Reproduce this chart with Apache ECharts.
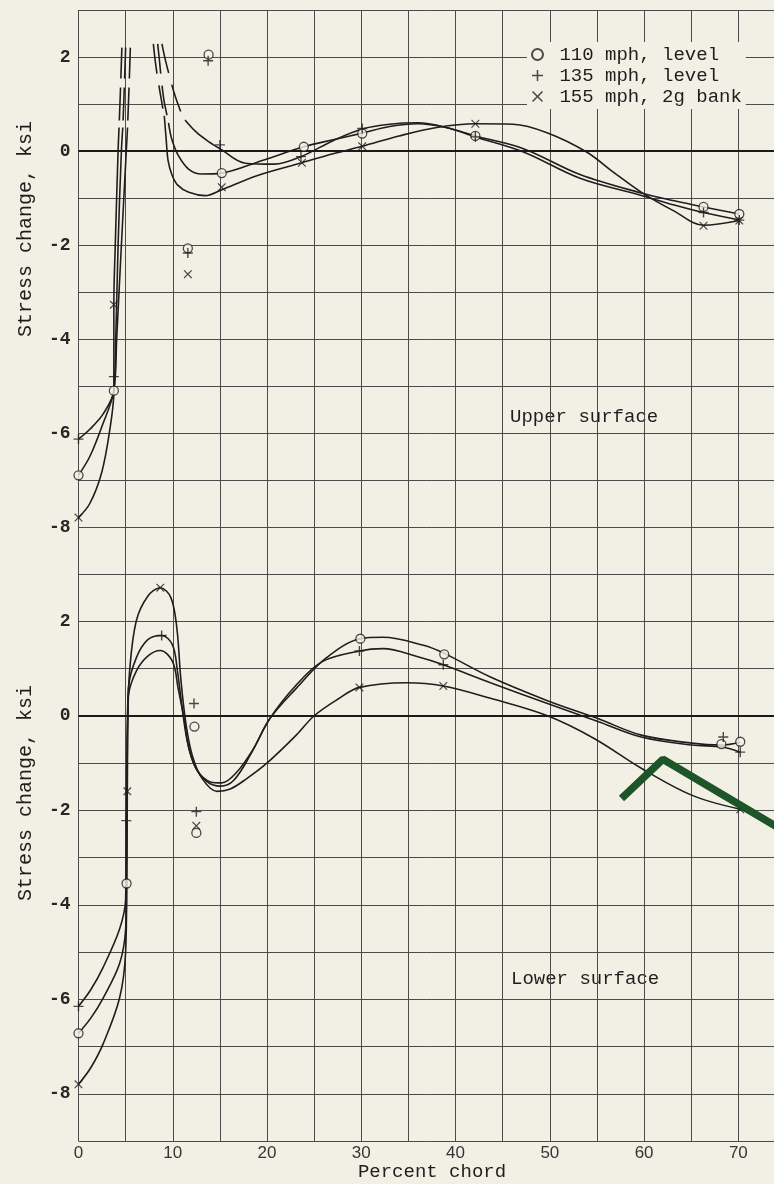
<!DOCTYPE html>
<html>
<head>
<meta charset="utf-8">
<script src="https://cdn.jsdelivr.net/npm/echarts@6/dist/echarts.min.js"></script>
<style>
  html, body { margin: 0; padding: 0; background: #f2f0e5; }
  #chart { width: 774px; height: 1184px; }
</style>
</head>
<body>
<div id="chart"></div>
<script>
// ---------- data (x = percent chord, y = stress change, ksi) ----------
const xTicks = [0, 10, 20, 30, 40, 50, 60, 70];
const yTicks = [-8, -6, -4, -2, 0, 2];
const seriesNames = ['110 mph, level', '135 mph, level', '155 mph, 2g bank'];

// Upper surface, measured points
const upper110 = [[0,-6.9],[3.75,-5.1],[11.6,-2.07],[13.8,2.05],[15.2,-0.47],[23.9,0.09],[30.1,0.37],[42.1,0.32],[66.3,-1.19],[70.1,-1.34]];
const upper135 = [[0,-6.13],[3.75,-4.8],[11.6,-2.17],[13.75,1.92],[15.0,0.13],[23.6,-0.12],[30.1,0.48],[42.1,0.3],[66.3,-1.31],[70.1,-1.47]];
const upper155 = [[0,-7.8],[3.75,-3.27],[11.6,-2.62],[15.2,-0.77],[23.7,-0.25],[30.1,0.1],[42.1,0.58],[66.3,-1.59],[70.1,-1.48]];

// Upper surface, faired curves: leading-edge part (solid), its broken continuation,
// the broken descent past 8 percent, and the main solid part
const upper110Nose = [[0,-6.9],[1.2,-6.5],[2.45,-5.88],[3.75,-5.1],[4.05,-4.0],[4.55,-2.0],[5.07,0],[5.2,0.5]];
const upper135Nose = [[0,-6.13],[1.2,-5.92],[2.6,-5.6],[3.75,-5.1],[3.95,-4.0],[4.2,-2.0],[4.55,0],[4.7,0.5]];
const upper155Nose = [[0,-7.8],[1.2,-7.5],[2.45,-6.85],[3.3,-5.96],[3.75,-5.1],[3.75,-3.25],[3.9,-2.0],[4.2,0],[4.3,0.5]];
const upper110Rise = [[5.23,0.65],[5.37,1.4],[5.5,2.2]];
const upper135Rise = [[4.73,0.65],[4.87,1.4],[5.0,2.2]];
const upper155Rise = [[4.33,0.65],[4.47,1.4],[4.6,2.2]];
const upper110Drop = [[8.4,2.28],[8.6,1.9],[8.8,1.5],[9.05,1.1],[9.4,0.75]];
const upper135Drop = [[8.85,2.28],[9.2,1.95],[9.62,1.62],[10.2,1.2],[10.84,0.84]];
const upper155Drop = [[7.94,2.28],[8.15,1.9],[8.4,1.55],[8.65,1.25],[8.95,0.9]];
const upper110Main = [[9.55,0.6],[9.9,0.25],[10.6,-0.1],[11.7,-0.39],[13.1,-0.49],[15.2,-0.47],[19.5,-0.2],[23.9,0.09],[27,0.24],[30.1,0.38],[33,0.52],[36,0.58],[39,0.5],[42.1,0.32],[47.2,0.05],[53.2,-0.5],[59.8,-0.9],[63.2,-1.06],[66.3,-1.19],[70.1,-1.34]];
const upper135Main = [[11.3,0.66],[12.5,0.4],[13.8,0.2],[15.0,0.05],[17.7,-0.26],[20.8,-0.28],[23.6,-0.12],[27,0.22],[30.1,0.47],[33,0.57],[36,0.6],[39,0.5],[42.1,0.3],[47.2,-0.02],[53.2,-0.58],[59.8,-0.95],[63.2,-1.15],[66.3,-1.31],[70.1,-1.47]];
const upper155Main = [[9.1,0.75],[9.3,0.25],[9.5,-0.2],[9.9,-0.5],[10.5,-0.72],[11.7,-0.88],[13.46,-0.95],[15.03,-0.84],[19,-0.52],[23.7,-0.25],[27,-0.06],[30.1,0.1],[34,0.32],[38,0.5],[42.1,0.58],[46.1,0.57],[49.7,0.39],[53.9,-0.02],[56.8,-0.46],[59.8,-0.89],[63.2,-1.28],[66.3,-1.58],[70.1,-1.48]];

// Lower surface, measured points
const lower110 = [[0,-6.72],[5.1,-3.55],[12.3,-0.23],[12.5,-2.48],[29.9,1.63],[38.8,1.3],[68.2,-0.6],[70.2,-0.55]];
const lower135 = [[0,-6.15],[5.07,-2.22],[8.82,1.7],[12.25,0.26],[12.5,-2.03],[29.8,1.37],[38.7,1.08],[68.4,-0.45],[70.2,-0.77]];
const lower155 = [[0,-7.8],[5.18,-1.6],[8.68,2.71],[12.5,-2.33],[29.8,0.6],[38.7,0.63],[70.2,-1.98]];

// Lower surface, faired curves
const lower110Curve = [[0,-6.72],[1.3,-6.4],[2.6,-5.98],[4.35,-5.25],[5.0,-4.52],[5.1,-3.55],[5.15,-2.0],[5.2,0],[5.3,0.44],[6.12,0.94],[7.35,1.26],[8.68,1.38],[9.97,1.15],[10.57,0.58],[11.2,-0.06],[11.72,-0.7],[12.6,-1.16],[14.0,-1.4],[15.2,-1.42],[16.8,-1.19],[18.55,-0.7],[20.3,-0.06],[23.1,0.58],[26.25,1.22],[29.9,1.63],[32.3,1.66],[36.6,1.49],[38.8,1.32],[43.7,0.82],[49.75,0.32],[55.1,-0.06],[59.7,-0.41],[65.05,-0.58],[68.2,-0.62],[70.2,-0.56]];
const lower135Curve = [[0,-6.15],[1.3,-5.8],[2.6,-5.33],[4.35,-4.52],[5.0,-3.88],[5.07,-2.22],[5.15,-0.5],[5.22,0],[5.3,0.6],[6.12,1.22],[7.35,1.61],[8.82,1.7],[9.97,1.5],[10.5,0.94],[11.0,0.16],[11.55,-0.55],[12.4,-1.09],[13.65,-1.4],[15.05,-1.49],[16.45,-1.37],[18.2,-0.84],[20.3,-0.06],[23.1,0.65],[25.9,1.15],[29.8,1.37],[32.3,1.42],[36,1.25],[38.7,1.08],[43.7,0.7],[49.75,0.26],[55.1,-0.12],[59.7,-0.45],[65.05,-0.62],[68.3,-0.66],[70.2,-0.77]];
const lower155Curve = [[0,-7.8],[1.3,-7.45],[2.6,-6.95],[4.35,-5.98],[5.0,-5.0],[5.12,-3.5],[5.18,-1.6],[5.25,0],[5.42,0.94],[6.12,2.0],[7.35,2.53],[8.68,2.71],[9.8,2.5],[10.43,1.86],[10.85,0.79],[11.37,-0.13],[12.07,-0.84],[13.12,-1.33],[14.7,-1.6],[16.1,-1.55],[17.85,-1.33],[19.95,-1.01],[23.1,-0.41],[25.0,0.0],[27.5,0.35],[29.8,0.6],[34.8,0.7],[38.7,0.63],[43.7,0.37],[49.75,0.0],[54.7,-0.48],[59.7,-1.11],[65.05,-1.68],[70.2,-1.98]];

// green pen stroke on the scanned sheet (lower panel coordinates)
const penMark = [[57.6,-1.75],[62.0,-0.92],[76,-2.58]];

// ---------- styling ----------
const PAPER = '#f2f0e5';
const INK = '#1e1e1e';
const GRIDC = '#4c4c4c';
const MONO = '"Liberation Mono", "DejaVu Sans Mono", monospace';
const PLUS = 'path://M4.3,0L5.7,0L5.7,4.3L10,4.3L10,5.7L5.7,5.7L5.7,10L4.3,10L4.3,5.7L0,5.7L0,4.3L4.3,4.3Z';
const CROSS = 'path://M0,1L1,0L5,4L9,0L10,1L6,5L10,9L9,10L5,6L1,10L0,9L4,5Z';

function curve(data, gi, dashed, extra) {
  const s = {
    type: 'line', xAxisIndex: gi, yAxisIndex: gi, data: data,
    smooth: 0.35, symbol: 'none', showSymbol: false, silent: true, z: 3,
    lineStyle: { color: INK, width: 1.6, type: dashed ? [30, 12] : 'solid' }
  };
  return Object.assign(s, extra || {});
}
function zeroLine() {
  return { markLine: { symbol: 'none', silent: true, label: { show: false },
    lineStyle: { color: '#1a1a1a', width: 2, type: 'solid' }, data: [{ yAxis: 0 }] } };
}
function marks(name, data, gi, kind) {
  const s = { type: 'scatter', name: name, xAxisIndex: gi, yAxisIndex: gi, data: data, z: 6, silent: true };
  if (kind === 'o') {
    s.symbol = 'circle'; s.symbolSize = 9;
    s.itemStyle = { color: PAPER, borderColor: INK, borderWidth: 1.3 };
  } else if (kind === '+') {
    s.symbol = PLUS; s.symbolSize = 10;
    s.itemStyle = { color: INK };
  } else {
    s.symbol = CROSS; s.symbolSize = 8.5;
    s.itemStyle = { color: INK };
  }
  return s;
}

const xAxisBase = {
  type: 'value', min: 0, max: 75, interval: 5,
  axisLine: { show: false }, axisTick: { show: false },
  splitLine: { show: true, lineStyle: { color: GRIDC, width: 1 } }
};
const yAxisBase = {
  type: 'value', min: -9, max: 3, interval: 1,
  axisLine: { show: false }, axisTick: { show: false },
  splitLine: { show: true, lineStyle: { color: GRIDC, width: 1 } },
  axisLabel: {
    margin: 8, color: '#262626', fontFamily: MONO, fontWeight: 'bold', fontSize: 18,
    formatter: v => (yTicks.indexOf(v) >= 0 ? String(v) : '')
  }
};

const option = {
  backgroundColor: PAPER,
  animation: false,
  grid: [
    { left: 78.5, top: 10, width: 707, height: 564, outerBoundsMode: 'none', containLabel: false },
    { left: 78.5, top: 574, width: 707, height: 567, outerBoundsMode: 'none', containLabel: false }
  ],
  xAxis: [
    Object.assign({}, xAxisBase, { gridIndex: 0, axisLabel: { show: false } }),
    Object.assign({}, xAxisBase, {
      gridIndex: 1,
      axisLabel: {
        margin: 4, color: '#353535', fontFamily: '"Liberation Sans", Arial, sans-serif', fontSize: 17,
        formatter: v => (xTicks.indexOf(v) >= 0 ? String(v) : '')
      },
      name: 'Percent chord', nameLocation: 'middle', nameGap: 21,
      nameTextStyle: { fontFamily: MONO, fontSize: 19, color: INK }
    })
  ],
  yAxis: [
    Object.assign({}, yAxisBase, { gridIndex: 0 }),
    Object.assign({}, yAxisBase, { gridIndex: 1 })
  ],
  legend: {
    orient: 'vertical', left: 527, top: 42, itemWidth: 11, itemHeight: 11, itemGap: 0,
    padding: [2, 4, 2, 4], backgroundColor: PAPER, selectedMode: false,
    data: seriesNames,
    formatter: n => ' ' + n,
    textStyle: { fontFamily: MONO, fontSize: 19, color: INK, lineHeight: 21 }
  },
  graphic: [
    { type: 'text', x: 26, y: 229, rotation: Math.PI / 2, silent: true,
      style: { text: 'Stress change, ksi', font: '20px ' + MONO, fill: INK, textAlign: 'center', textVerticalAlign: 'middle' } },
    { type: 'text', x: 26, y: 793, rotation: Math.PI / 2, silent: true,
      style: { text: 'Stress change, ksi', font: '20px ' + MONO, fill: INK, textAlign: 'center', textVerticalAlign: 'middle' } },
    { type: 'text', x: 510, y: 417, silent: true,
      style: { text: 'Upper surface', font: '19px ' + MONO, fill: INK, textAlign: 'left', textVerticalAlign: 'middle' } },
    { type: 'text', x: 511, y: 979, silent: true,
      style: { text: 'Lower surface', font: '19px ' + MONO, fill: INK, textAlign: 'left', textVerticalAlign: 'middle' } }
  ],
  series: [
    // upper surface curves
    curve(upper110Nose, 0, false, zeroLine()),
    curve(upper135Nose, 0, false),
    curve(upper155Nose, 0, false),
    curve(upper110Rise, 0, true, { smooth: false, lineStyle: { color: INK, width: 1.6, type: [33, 9] } }),
    curve(upper135Rise, 0, true, { smooth: false, lineStyle: { color: INK, width: 1.6, type: [33, 9] } }),
    curve(upper155Rise, 0, true, { smooth: false, lineStyle: { color: INK, width: 1.6, type: [33, 9] } }),
    curve(upper110Drop, 0, true),
    curve(upper135Drop, 0, true),
    curve(upper155Drop, 0, true),
    curve(upper110Main, 0, false),
    curve(upper135Main, 0, false),
    curve(upper155Main, 0, false),
    // lower surface curves
    curve(lower110Curve, 1, false, zeroLine()),
    curve(lower135Curve, 1, false),
    curve(lower155Curve, 1, false),
    // pen stroke
    { type: 'line', xAxisIndex: 1, yAxisIndex: 1, data: penMark, symbol: 'none', silent: true, z: 8,
      lineStyle: { color: '#1d5528', width: 7.5, cap: 'butt', join: 'bevel' } },
    // measured points
    marks(seriesNames[0], upper110, 0, 'o'),
    marks(seriesNames[1], upper135, 0, '+'),
    marks(seriesNames[2], upper155, 0, 'x'),
    marks(seriesNames[0], lower110, 1, 'o'),
    marks(seriesNames[1], lower135, 1, '+'),
    marks(seriesNames[2], lower155, 1, 'x')
  ]
};

const chart = echarts.init(document.getElementById('chart'), null, { renderer: 'canvas', width: 774, height: 1184 });
chart.setOption(option);
</script>
</body>
</html>
